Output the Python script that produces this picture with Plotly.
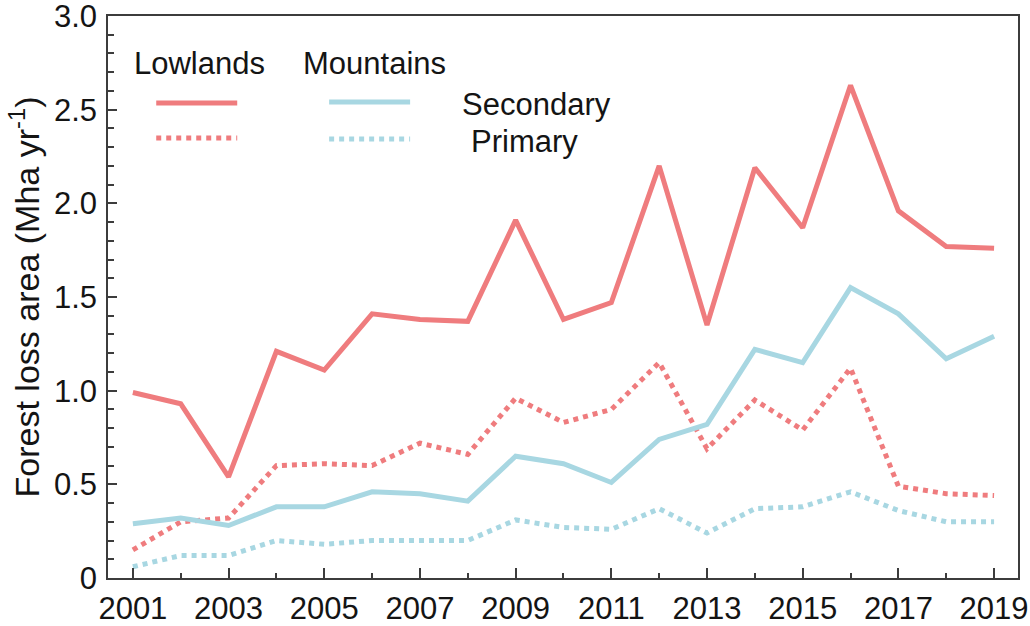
import plotly.graph_objects as go

years = list(range(2001, 2020))

lowlands_secondary = [0.99, 0.93, 0.54, 1.21, 1.11, 1.41, 1.38, 1.37, 1.91, 1.38,
                      1.47, 2.20, 1.35, 2.19, 1.87, 2.63, 1.96, 1.77, 1.76]
lowlands_primary = [0.15, 0.30, 0.32, 0.60, 0.61, 0.60, 0.72, 0.66, 0.96, 0.83,
                    0.90, 1.15, 0.69, 0.95, 0.79, 1.12, 0.49, 0.45, 0.44]
mountains_secondary = [0.29, 0.32, 0.28, 0.38, 0.38, 0.46, 0.45, 0.41, 0.65, 0.61,
                       0.51, 0.74, 0.82, 1.22, 1.15, 1.55, 1.41, 1.17, 1.29]
mountains_primary = [0.06, 0.12, 0.12, 0.20, 0.18, 0.20, 0.20, 0.20, 0.31, 0.27,
                     0.26, 0.37, 0.24, 0.37, 0.38, 0.46, 0.36, 0.30, 0.30]

y_tick_values = [0, 0.5, 1.0, 1.5, 2.0, 2.5, 3.0]
y_tick_labels = ["0", "0.5", "1.0", "1.5", "2.0", "2.5", "3.0"]
x_tick_values = list(range(2001, 2020, 2))

RED = "#EF7C7E"
BLUE = "#A8D7E2"
FONT = "Liberation Sans, Arial, Helvetica, sans-serif"
INK = "#141414"
FRAME = "#3c3c3c"
TEXT_SIZE = 31

fig = go.Figure()

series = [
    ("Lowlands secondary", lowlands_secondary, RED, "solid"),
    ("Lowlands primary", lowlands_primary, RED, "dot"),
    ("Mountains secondary", mountains_secondary, BLUE, "solid"),
    ("Mountains primary", mountains_primary, BLUE, "dot"),
]
for name, vals, color, dash in series:
    fig.add_trace(go.Scatter(
        x=years, y=vals, mode="lines", name=name,
        line=dict(color=color, width=5, dash=dash),
        showlegend=False,
    ))

# Hand-built key: two region headers, sample lines, and forest-type labels
key_lines = [
    (0.053, 0.142, 0.845, RED, "solid"),
    (0.053, 0.142, 0.783, RED, "dot"),
    (0.243, 0.332, 0.847, BLUE, "solid"),
    (0.243, 0.332, 0.781, BLUE, "dot"),
]
for x0, x1, yv, color, dash in key_lines:
    fig.add_shape(type="line", xref="x domain", yref="y domain",
                  x0=x0, x1=x1, y0=yv, y1=yv,
                  line=dict(color=color, width=5, dash=dash))

key_texts = [
    ("Lowlands", 0.101, 0.915),
    ("Mountains", 0.293, 0.915),
    ("Secondary", 0.471, 0.842),
    ("Primary", 0.458, 0.776),
]
for txt, xv, yv in key_texts:
    fig.add_annotation(text=txt, xref="x domain", yref="y domain",
                       x=xv, y=yv, showarrow=False,
                       xanchor="center", yanchor="middle",
                       font=dict(family=FONT, size=TEXT_SIZE, color=INK))

fig.update_layout(
    width=1030, height=626,
    margin=dict(l=108, r=12, t=16, b=48),
    paper_bgcolor="white", plot_bgcolor="white",
    font=dict(family=FONT, size=TEXT_SIZE, color=INK),
)

fig.update_xaxes(
    range=[2000.48, 2019.5], automargin=False,
    tickmode="array", tickvals=x_tick_values,
    ticks="inside", ticklen=10, tickwidth=1.5, tickcolor=FRAME,
    minor=dict(dtick=1, tick0=2001, ticks="inside", ticklen=5,
               tickwidth=1.5, tickcolor=FRAME),
    showline=True, linecolor=FRAME, linewidth=1.5, mirror=True,
    showgrid=False, zeroline=False, ticklabelstandoff=2,
    ticklabeloverflow="allow",
    tickfont=dict(family=FONT, size=TEXT_SIZE, color=INK),
)

fig.update_yaxes(
    range=[0, 3.0], automargin=False,
    tickmode="array", tickvals=y_tick_values, ticktext=y_tick_labels,
    ticks="inside", ticklen=9, tickwidth=1.5, tickcolor=FRAME,
    minor=dict(dtick=0.1, tick0=0, ticks="inside", ticklen=6,
               tickwidth=1.5, tickcolor=FRAME),
    showline=True, linecolor=FRAME, linewidth=1.5, mirror=True,
    showgrid=False, zeroline=False, ticklabelstandoff=3,
    ticklabeloverflow="allow",
    tickfont=dict(family=FONT, size=TEXT_SIZE, color=INK),
    title=dict(text="Forest loss area (Mha yr<sup>-1</sup>)",
               font=dict(family=FONT, size=34, color=INK), standoff=4),
)

fig.write_html("out.html")
